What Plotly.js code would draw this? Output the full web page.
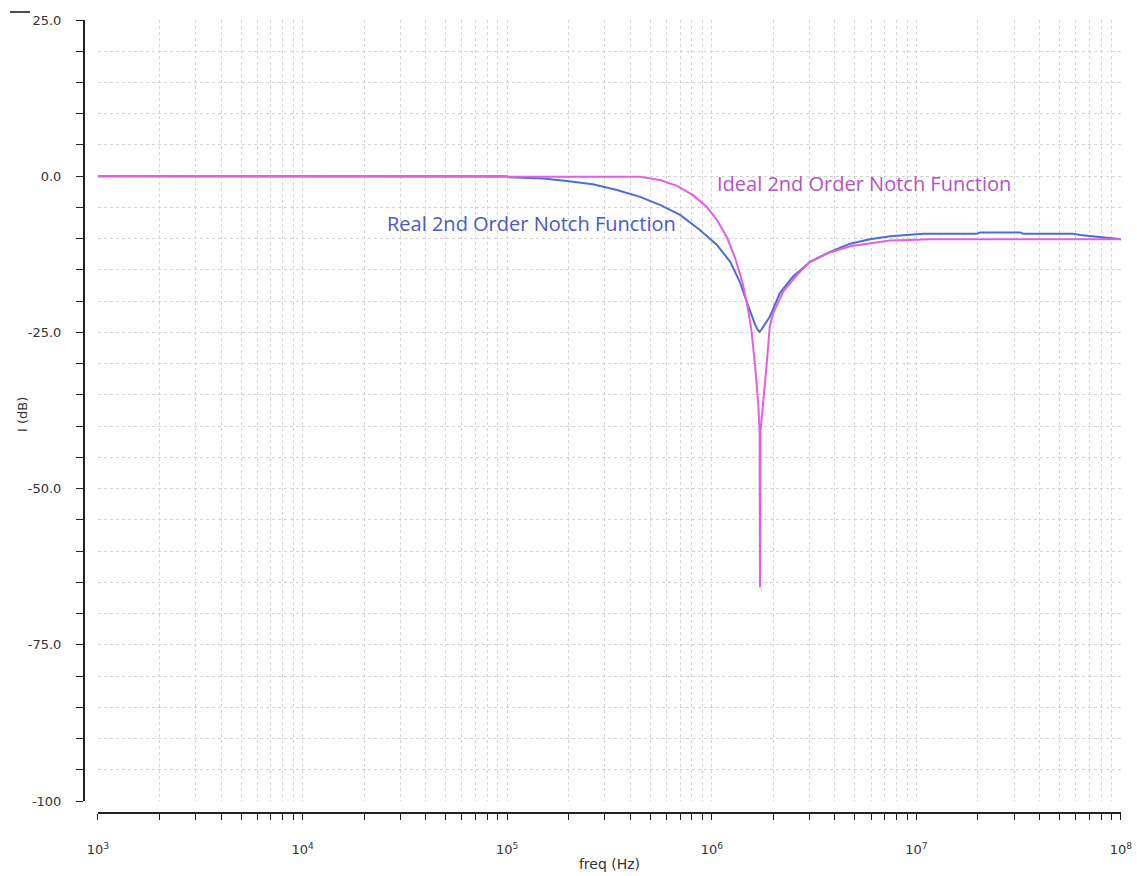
<!DOCTYPE html>
<html>
<head>
<meta charset="utf-8">
<script src="https://cdn.plot.ly/plotly-3.0.1.min.js"></script>
<style>html,body{margin:0;padding:0;background:#fff;}#chart{width:1137px;height:876px;}</style>
</head>
<body>
<div id="chart"></div>
<script>
// Real 2nd order notch (blue)
const realFreq = [1e3, 1e4, 1e5, 1.01e5, 1.50e5, 1.96e5, 2.62e5, 3.44e5, 4.46e5, 5.58e5, 7.00e5, 8.75e5, 1.06e6, 1.23e6, 1.37e6, 1.50e6, 1.63e6, 1.68e6, 1.71e6, 1.75e6, 1.82e6, 1.92e6, 2.15e6, 2.49e6, 3.02e6, 3.78e6, 4.74e6, 5.93e6, 7.43e6, 9.31e6, 1.08e7, 1.98e7, 2.05e7, 3.21e7, 3.32e7, 5.82e7, 6.31e7, 7.64e7, 1e8];
const realDb   = [0, 0, 0, -0.15, -0.37, -0.75, -1.3, -2.2, -3.3, -4.6, -6.2, -8.6, -11.0, -13.7, -16.9, -20.6, -23.8, -24.6, -24.9, -24.5, -23.6, -22.5, -18.7, -16.1, -13.7, -12.1, -10.8, -10.1, -9.6, -9.4, -9.2, -9.2, -9.0, -9.0, -9.2, -9.2, -9.4, -9.7, -10.1];

// Ideal 2nd order notch (magenta)
const idealFreq = [1e3, 1e4, 1e5, 2.54e5, 4.46e5, 5.58e5, 6.76e5, 8.06e5, 9.43e5, 1.06e6, 1.19e6, 1.30e6, 1.41e6, 1.49e6, 1.56e6, 1.63e6, 1.69e6, 1.712e6, 1.72e6, 1.728e6, 1.78e6, 1.85e6, 1.92e6, 1.99e6, 2.23e6, 2.61e6, 3.02e6, 3.78e6, 4.74e6, 5.93e6, 7.43e6, 9.31e6, 1.16e7, 1e8];
const idealDb   = [0, 0, 0, 0, -0.1, -0.6, -1.55, -3.0, -4.9, -7.0, -9.9, -13.1, -16.9, -20.6, -24.5, -30.5, -36.9, -41.0, -65.8, -41.0, -36.9, -30.5, -24.1, -22.0, -18.5, -15.8, -13.7, -12.2, -11.2, -10.7, -10.3, -10.2, -10.1, -10.1];

// Axis ticks
const xDecades = [3, 4, 5, 6, 7, 8];
const xDecadeLabels = ["10<sup>3</sup>", "10<sup>4</sup>", "10<sup>5</sup>", "10<sup>6</sup>", "10<sup>7</sup>", "10<sup>8</sup>"];
const yMajor = [25, 0, -25, -50, -75, -100];
const yMajorLabels = ["25.0", "0.0", "-25.0", "-50.0", "-75.0", "-100"];
const yMinorStep = 5;

// Labels
const seriesNames = ["Real 2nd Order Notch Function", "Ideal 2nd Order Notch Function"];
const xTitle = "freq (Hz)";
const yTitle = "I (dB)";

const xMajorVals = xDecades.map(d => Math.pow(10, d));
const xMinorVals = [];
xDecades.slice(0, -1).forEach(d => {
  for (let m = 2; m <= 9; m++) xMinorVals.push(m * Math.pow(10, d));
});
const yMinorVals = [];
for (let v = 25; v >= -100; v -= yMinorStep) if (yMajor.indexOf(v) < 0) yMinorVals.push(v);

const traces = [
  { x: realFreq, y: realDb, type: "scatter", mode: "lines", name: seriesNames[0],
    line: { color: "#4d6dd4", width: 2 }, showlegend: false },
  { x: idealFreq, y: idealDb, type: "scatter", mode: "lines", name: seriesNames[1],
    line: { color: "#e35ee3", width: 2 }, showlegend: false }
];

const tickFont = { family: "DejaVu Sans", size: 13, color: "#333" };
const gridCol = "#d4d4d4";

const layout = {
  width: 1137, height: 876,
  margin: { l: 83, r: 16, t: 20, b: 64 },
  paper_bgcolor: "#fff", plot_bgcolor: "#fff",
  showlegend: false,
  xaxis: {
    type: "log", range: [3, 8], domain: [0.01445, 1],
    anchor: "free", position: 0,
    tickmode: "array", tickvals: xMajorVals, ticktext: xDecadeLabels,
    ticks: "outside", ticklen: 6, tickcolor: "#222", tickwidth: 1,
    minor: { tickmode: "array", tickvals: xMinorVals, ticks: "outside", ticklen: 6, tickcolor: "#222", tickwidth: 1,
             showgrid: true, gridcolor: gridCol, griddash: "dot", gridwidth: 1 },
    showline: true, linecolor: "#222", linewidth: 1.5,
    showgrid: true, gridcolor: gridCol, griddash: "dot", gridwidth: 1,
    zeroline: false, tickfont: tickFont, ticklabelstandoff: 19,
    title: { text: xTitle, font: { family: "DejaVu Sans", size: 14, color: "#333" }, standoff: 3 }
  },
  yaxis: {
    range: [-100, 25], domain: [0.01389, 1],
    anchor: "free", position: 0,
    tickmode: "array", tickvals: yMajor, ticktext: yMajorLabels,
    ticks: "outside", ticklen: 7, tickcolor: "#222", tickwidth: 1,
    minor: { tickmode: "array", tickvals: yMinorVals, ticks: "outside", ticklen: 7, tickcolor: "#222", tickwidth: 1,
             showgrid: true, gridcolor: gridCol, griddash: "dot", gridwidth: 1 },
    showline: true, linecolor: "#222", linewidth: 1.5,
    showgrid: true, gridcolor: gridCol, griddash: "dot", gridwidth: 1,
    zeroline: false, tickfont: tickFont, ticklabelstandoff: 12
  },
  annotations: [
    { x: -0.0588, y: 0.5025, xref: "paper", yref: "paper", text: yTitle, showarrow: false, textangle: -90,
      xanchor: "center", yanchor: "middle", font: { family: "DejaVu Sans", size: 13, color: "#333" } },
    { x: 4.403, y: -7.5, xref: "x", yref: "y", text: seriesNames[0], showarrow: false,
      xanchor: "left", yanchor: "middle", font: { family: "Open Sans", size: 20, color: "#4a58c8" } },
    { x: 6.016, y: -1.1, xref: "x", yref: "y", text: seriesNames[1], showarrow: false,
      xanchor: "left", yanchor: "middle", font: { family: "Open Sans", size: 20, color: "#b452c2" } }
  ],
  shapes: [
    { type: "line", xref: "paper", yref: "paper", x0: -0.0703, x1: -0.0511, y0: 1.0101, y1: 1.0101,
      line: { color: "#111", width: 1.5 } }
  ]
};

Plotly.newPlot("chart", traces, layout, { displayModeBar: false, staticPlot: true });
</script>
</body>
</html>
